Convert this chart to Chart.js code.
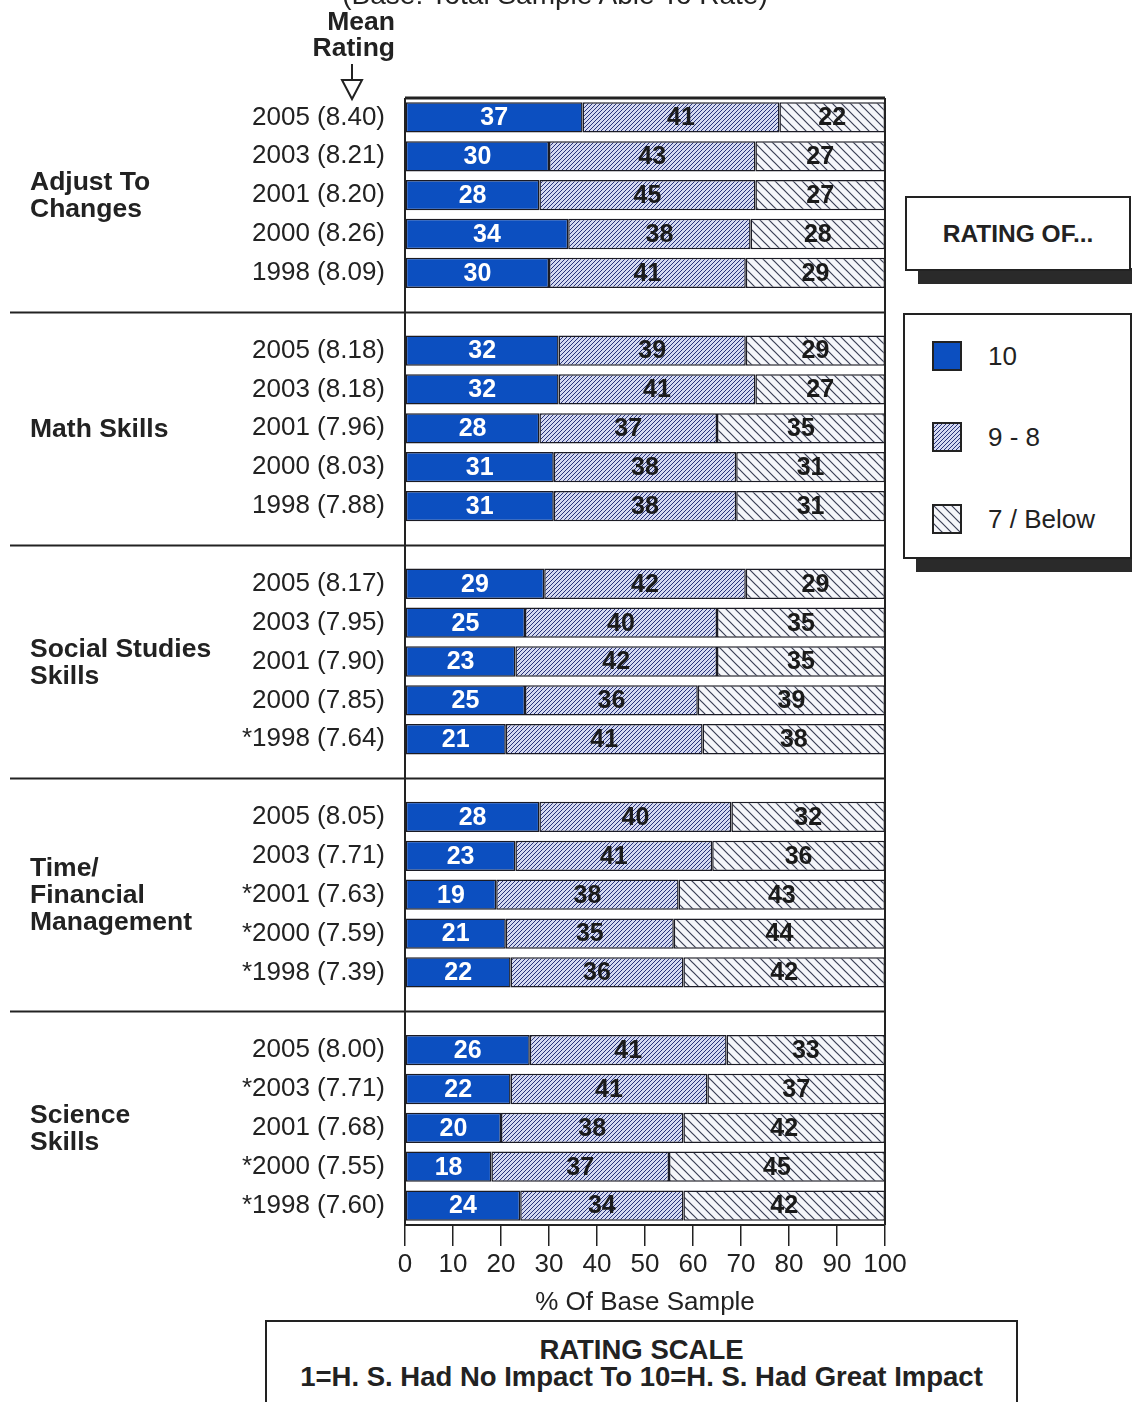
<!DOCTYPE html>
<html><head><meta charset="utf-8">
<script src="https://cdn.jsdelivr.net/npm/chart.js@4.4.0/dist/chart.umd.min.js"></script>
<style>
html,body{margin:0;padding:0;background:#fff;}
body{width:1132px;height:1402px;position:relative;overflow:hidden;font-family:"Liberation Sans",Arial,sans-serif;color:#222;}
#wrap{position:absolute;left:0;top:0;width:1132px;height:1402px;}
.abs{position:absolute;white-space:nowrap;}
.b{font-weight:bold;}
.grp{position:absolute;left:30px;font-weight:bold;font-size:26.5px;line-height:27px;white-space:pre;}
.box{position:absolute;border:2px solid #222;background:#fff;box-sizing:border-box;}
.shadow{position:absolute;background:#2a2a2a;}
.legrow{position:absolute;left:932px;height:30px;width:190px;}
.legrow canvas{position:absolute;left:0;top:0;}
.legrow span{position:absolute;left:56px;top:0;font-size:26px;line-height:30px;white-space:nowrap;}
</style></head>
<body>
<div id="wrap"><canvas id="c" width="1132" height="1402"></canvas></div>

<div class="abs" style="left:290px;width:530px;text-align:center;top:-19px;font-size:28px;line-height:28px;">(Base: Total Sample Able To Rate)</div>
<div class="abs b" style="right:737px;top:8px;font-size:26.5px;line-height:26px;text-align:right;">Mean<br>Rating</div>
<svg class="abs" style="left:339px;top:64px;" width="26" height="40">
  <line x1="13" y1="0" x2="13" y2="16" stroke="#222" stroke-width="2"/>
  <polygon points="3,16 23,16 13,35" fill="#fff" stroke="#222" stroke-width="2"/>
</svg>

<div class="shadow" style="left:918px;top:268px;width:214px;height:16px;"></div>
<div class="box" style="left:905px;top:196px;width:226px;height:75px;"></div>
<div class="abs b" style="left:905px;top:196px;width:226px;height:75px;line-height:75px;text-align:center;font-size:24.5px;">RATING OF...</div>

<div class="shadow" style="left:916px;top:555px;width:216px;height:17px;"></div>
<div class="box" style="left:903px;top:313px;width:229px;height:246px;"></div>
<div class="legrow" style="top:341px;"><canvas id="sw0" width="30" height="30"></canvas><span>10</span></div>
<div class="legrow" style="top:422px;"><canvas id="sw1" width="30" height="30"></canvas><span>9 - 8</span></div>
<div class="legrow" style="top:504px;"><canvas id="sw2" width="30" height="30"></canvas><span>7 / Below</span></div>

<div class="box" style="left:265px;top:1320px;width:753px;height:100px;"></div>
<div class="abs b" style="left:265px;width:753px;text-align:center;top:1336px;font-size:27.5px;line-height:27px;">RATING SCALE<br>1=H. S. Had No Impact To 10=H. S. Had Great Impact</div>

<div id="groups"></div>

<script>
// ---------------- DATA ----------------
const groupNames = ["Adjust To\nChanges", "Math Skills", "Social Studies\nSkills", "Time/\nFinancial\nManagement", "Science\nSkills"];
const rowLabels = [
  ["2005 (8.40)", "2003 (8.21)", "2001 (8.20)", "2000 (8.26)", "1998 (8.09)"],
  ["2005 (8.18)", "2003 (8.18)", "2001 (7.96)", "2000 (8.03)", "1998 (7.88)"],
  ["2005 (8.17)", "2003 (7.95)", "2001 (7.90)", "2000 (7.85)", "*1998 (7.64)"],
  ["2005 (8.05)", "2003 (7.71)", "*2001 (7.63)", "*2000 (7.59)", "*1998 (7.39)"],
  ["2005 (8.00)", "*2003 (7.71)", "2001 (7.68)", "*2000 (7.55)", "*1998 (7.60)"]
];
const rating10 = [[37,30,28,34,30],[32,32,28,31,31],[29,25,23,25,21],[28,23,19,21,22],[26,22,20,18,24]];
const rating9to8 = [[41,43,45,38,41],[39,41,37,38,38],[42,40,42,36,41],[40,41,38,35,36],[41,41,38,37,34]];
const rating7below = [[22,27,27,28,29],[29,27,35,31,31],[29,35,35,39,38],[32,36,43,44,42],[33,37,42,45,42]];
const seriesNames = ["10", "9 - 8", "7 / Below"];
const xTitle = "% Of Base Sample";

// ------------- build flat rows (with a blank row between groups) -------------
const labels = [], d10 = [], d98 = [], d7 = [], gapIdx = [], midIdx = [];
groupNames.forEach((g, gi) => {
  if (gi > 0) { gapIdx.push(labels.length); labels.push(""); d10.push(null); d98.push(null); d7.push(null); }
  rowLabels[gi].forEach((lab, ri) => {
    if (ri === 2) midIdx.push(labels.length);
    labels.push(lab);
    d10.push(rating10[gi][ri]); d98.push(rating9to8[gi][ri]); d7.push(rating7below[gi][ri]);
  });
});

// ------------- patterns -------------
function tile(bg, line, s, dir, lw) {
  const c = document.createElement('canvas'); c.width = c.height = s;
  const g = c.getContext('2d');
  g.fillStyle = bg; g.fillRect(0, 0, s, s);
  g.strokeStyle = line; g.lineWidth = lw; g.beginPath();
  if (dir > 0) {
    g.moveTo(-1, s + 1); g.lineTo(s + 1, -1);
    g.moveTo(-1, 1); g.lineTo(1, -1);
    g.moveTo(s - 1, s + 1); g.lineTo(s + 1, s - 1);
  } else {
    g.moveTo(-1, -1); g.lineTo(s + 1, s + 1);
    g.moveTo(s - 1, -1); g.lineTo(s + 1, 1);
    g.moveTo(-1, s - 1); g.lineTo(1, s + 1);
  }
  g.stroke();
  return c;
}
const ctx = document.getElementById('c').getContext('2d');
const BLUE = '#0c4fc0';
const t98 = tile('#d4d9f1', '#27337a', 4, 1, 1);
const t7 = tile('#f5f6fa', '#3a3f55', 9, -1, 1.2);
const pat98 = ctx.createPattern(t98, 'repeat');
const pat7 = ctx.createPattern(t7, 'repeat');
const fills = [BLUE, pat98, pat7];

// legend swatches
['sw0','sw1','sw2'].forEach((id, i) => {
  const g = document.getElementById(id).getContext('2d');
  g.fillStyle = i === 0 ? BLUE : g.createPattern(i === 1 ? t98 : t7, 'repeat');
  g.fillRect(1, 1, 28, 28);
  g.strokeStyle = '#222'; g.lineWidth = 2; g.strokeRect(1, 1, 28, 28);
});

// ------------- plugin: box, separators, value labels, group labels -------------
const FONT = '"Liberation Sans", Arial, sans-serif';
const decor = {
  id: 'decor',
  afterDatasetsDraw(chart) {
    const { ctx, chartArea: a, scales: { x, y } } = chart;
    ctx.save();
    ctx.strokeStyle = '#222';
    ctx.lineWidth = 2;
    gapIdx.forEach(i => {
      const py = Math.round(y.getPixelForValue(i)) + 0.5;
      ctx.beginPath(); ctx.moveTo(10, py); ctx.lineTo(a.right, py); ctx.stroke();
    });
    ctx.beginPath();
    ctx.moveTo(a.left, a.top); ctx.lineTo(a.left, a.bottom);
    ctx.moveTo(a.right, a.top); ctx.lineTo(a.right, a.bottom);
    ctx.stroke();
    ctx.lineWidth = 3;
    ctx.beginPath(); ctx.moveTo(a.left, a.top); ctx.lineTo(a.right, a.top); ctx.stroke();

    ctx.font = 'bold 25px ' + FONT;
    ctx.textAlign = 'center'; ctx.textBaseline = 'middle';
    chart.data.datasets.forEach((ds, di) => {
      const meta = chart.getDatasetMeta(di);
      meta.data.forEach((el, i) => {
        const v = ds.data[i];
        if (v == null) return;
        ctx.fillStyle = di === 0 ? '#ffffff' : '#1a1a1a';
        ctx.fillText(String(v), (el.x + el.base) / 2, el.y + 1);
      });
    });
    ctx.restore();
  },
  afterRender(chart) {
    const host = document.getElementById('groups');
    if (host.childElementCount) return;
    const y = chart.scales.y;
    groupNames.forEach((g, gi) => {
      const d = document.createElement('div');
      d.className = 'grp';
      d.textContent = g;
      host.appendChild(d);
      const h = d.offsetHeight;
      d.style.top = (y.getPixelForValue(midIdx[gi]) - h / 2) + 'px';
    });
  }
};

new Chart(ctx, {
  type: 'bar',
  data: {
    labels: labels,
    datasets: [
      { label: seriesNames[0], data: d10, backgroundColor: fills[0] },
      { label: seriesNames[1], data: d98, backgroundColor: fills[1] },
      { label: seriesNames[2], data: d7, backgroundColor: fills[2] }
    ]
  },
  options: {
    indexAxis: 'y',
    responsive: false,
    animation: false,
    layout: { padding: { top: 98, right: 247, bottom: 76, left: 0 } },
    datasets: { bar: { categoryPercentage: 1, barPercentage: 0.78, borderColor: '#1b1b24', borderWidth: 1.5, borderSkipped: false } },
    plugins: { legend: { display: false }, tooltip: { enabled: false } },
    scales: {
      x: {
        stacked: true, min: 0, max: 100,
        ticks: { stepSize: 10, color: '#222', padding: 3, maxRotation: 0, minRotation: 0, autoSkip: false, font: { family: FONT, size: 26 } },
        grid: { drawOnChartArea: false, drawTicks: true, tickLength: 21, color: '#222', lineWidth: 1.5 },
        border: { display: true, color: '#222', width: 2 },
        title: { display: true, text: xTitle, color: '#222', font: { family: FONT, size: 26 }, padding: { top: 0, bottom: 8 } },
        afterFit(s) { s.height = 101; }
      },
      y: {
        stacked: true,
        grid: { display: false, drawTicks: false },
        border: { display: false },
        ticks: { color: '#222', padding: 20, autoSkip: false, font: { family: FONT, size: 26 } },
        afterFit(s) { s.width = 405; }
      }
    }
  },
  plugins: [decor]
});
</script>
</body></html>
